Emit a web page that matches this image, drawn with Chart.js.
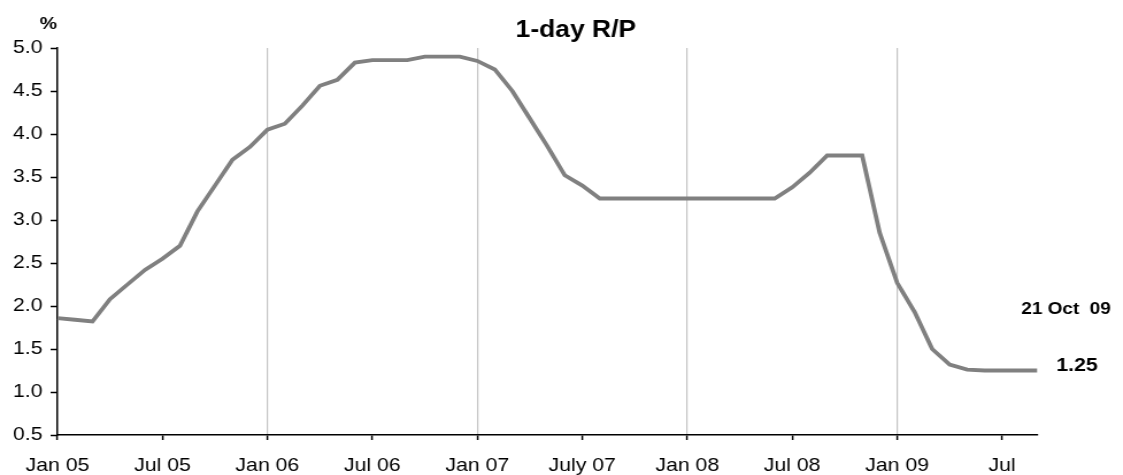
<!DOCTYPE html>
<html>
<head>
<meta charset="utf-8">
<script src="https://cdn.jsdelivr.net/npm/chart.js@4/dist/chart.umd.min.js"></script>
<style>
  html, body { margin: 0; padding: 0; background: #fff; overflow: hidden; }
  #wrap { width: 977px; height: 475px; transform: scaleX(1.1494); transform-origin: 0 0; }
</style>
</head>
<body>
<div id="wrap"><canvas id="c"></canvas></div>
<script>
// Monthly observations, Jan 2005 to the latest reading (21 Oct 2009)
const categories = [
  '2005-01','2005-02','2005-03','2005-04','2005-05','2005-06','2005-07','2005-08','2005-09','2005-10','2005-11','2005-12',
  '2006-01','2006-02','2006-03','2006-04','2006-05','2006-06','2006-07','2006-08','2006-09','2006-10','2006-11','2006-12',
  '2007-01','2007-02','2007-03','2007-04','2007-05','2007-06','2007-07','2007-08','2007-09','2007-10','2007-11','2007-12',
  '2008-01','2008-02','2008-03','2008-04','2008-05','2008-06','2008-07','2008-08','2008-09','2008-10','2008-11','2008-12',
  '2009-01','2009-02','2009-03','2009-04','2009-05','2009-06','2009-07','2009-08','2009-10-21'
];

// 1-day R/P rate, %
const rpRate = [
  1.86, 1.84, 1.82, 2.08, 2.25, 2.42, 2.55, 2.70, 3.10, 3.40, 3.70, 3.85,
  4.05, 4.12, 4.33, 4.56, 4.63, 4.83, 4.86, 4.86, 4.86, 4.90, 4.90, 4.90,
  4.85, 4.75, 4.50, 4.18, 3.86, 3.52, 3.40, 3.25, 3.25, 3.25, 3.25, 3.25,
  3.25, 3.25, 3.25, 3.25, 3.25, 3.25, 3.38, 3.55, 3.75, 3.75, 3.75, 2.85,
  2.27, 1.93, 1.50, 1.32, 1.26, 1.25, 1.25, 1.25, 1.25
];

// Axis labels shown every six months
const tickLabels = ['Jan 05','Jul 05','Jan 06','Jul 06','Jan 07','July 07','Jan 08','Jul 08','Jan 09','Jul'];
const yTicks = [0.5, 1.0, 1.5, 2.0, 2.5, 3.0, 3.5, 4.0, 4.5, 5.0];

const chartTitle = '1-day R/P';
const unitLabel = '%';
const latestDate = '21 Oct  09';

const FONT = '"Liberation Sans", Arial, Helvetica, sans-serif';

const annotations = {
  id: 'annotations',
  afterDraw(chart) {
    const ctx = chart.ctx;
    const y = chart.scales.y;
    const last = rpRate[rpRate.length - 1];
    ctx.save();
    ctx.fillStyle = '#000';
    ctx.textBaseline = 'alphabetic';

    ctx.font = 'bold 23px ' + FONT;
    ctx.textAlign = 'center';
    ctx.fillText(chartTitle, 501, 36.5);

    ctx.font = 'bold 17px ' + FONT;
    ctx.fillText(unitLabel, 42, 28.5);

    ctx.textAlign = 'left';
    ctx.font = 'bold 16.5px ' + FONT;
    ctx.fillText(latestDate, 888.5, 313.5);

    ctx.font = 'bold 18.5px ' + FONT;
    ctx.fillText(last.toFixed(2), 919, y.getPixelForValue(last));
    ctx.restore();
  }
};

new Chart(document.getElementById('c'), {
  type: 'line',
  data: {
    labels: categories,
    datasets: [{
      data: rpRate,
      borderColor: '#808080',
      borderWidth: 3.8,
      pointRadius: 0,
      tension: 0,
      fill: false
    }]
  },
  options: {
    responsive: true,
    maintainAspectRatio: false,
    animation: false,
    layout: { padding: { top: 48, right: 74.7, bottom: 0, left: 0 } },
    plugins: { legend: { display: false }, tooltip: { enabled: false }, title: { display: false } },
    scales: {
      x: {
        type: 'category',
        offset: false,
        afterFit(scale) { scale.height = 40; },
        border: { display: true, color: '#000', width: 1.5 },
        grid: {
          drawOnChartArea: true,
          color: c => (c.index % 12 === 0 && c.index > 0) ? '#c4c4c4' : 'rgba(0,0,0,0)',
          lineWidth: 1.2,
          tickColor: c => (c.index % 6 === 0) ? '#000' : 'rgba(0,0,0,0)',
          tickLength: 5,
          tickWidth: 1.5
        },
        ticks: {
          autoSkip: false,
          maxRotation: 0,
          minRotation: 0,
          padding: 14.5,
          color: '#000',
          font: { family: FONT, size: 18.5 },
          callback: (v, i) => (i % 6 === 0) ? tickLabels[i / 6] : ''
        }
      },
      y: {
        min: yTicks[0],
        max: yTicks[yTicks.length - 1],
        afterFit(scale) { scale.width = 50; },
        afterBuildTicks(scale) { scale.ticks = yTicks.map(v => ({ value: v })); },
        border: { display: true, color: '#000', width: 1.5 },
        grid: { drawOnChartArea: false, tickColor: '#000', tickLength: 6, tickWidth: 1.5 },
        ticks: {
          padding: 7,
          color: '#000',
          font: { family: FONT, size: 18.5 },
          callback: v => Number(v).toFixed(1)
        }
      }
    }
  },
  plugins: [annotations]
});
</script>
</body>
</html>
